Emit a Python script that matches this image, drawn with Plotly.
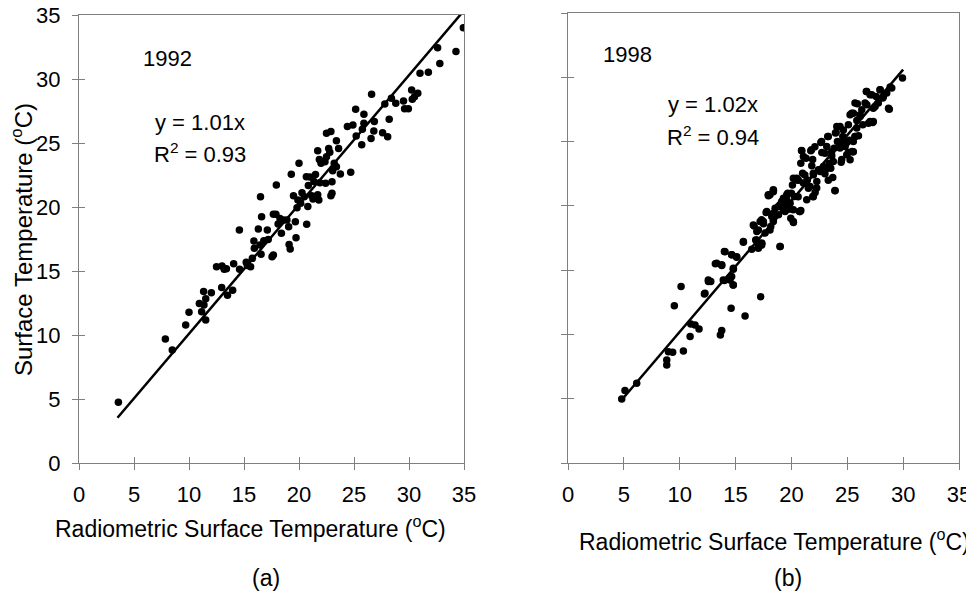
import plotly.graph_objects as go

# ---------------- data: panel (a) 1992 ----------------
a_x = [3.58, 7.85, 8.48, 9.7, 10.0, 11.15, 10.94, 11.36, 11.52, 11.33, 11.52, 12.03, 12.5, 13.0, 13.2, 13.4,
       12.97, 13.5, 13.97, 14.06, 14.58, 14.6, 15.2, 15.3, 15.6, 15.76, 15.9, 15.94, 16.3, 16.45, 16.55, 16.5,
       16.6, 16.8, 17.12, 17.2, 17.55, 17.67, 17.67, 17.9, 17.94, 18.1, 18.27, 18.4, 18.6, 18.9, 19.06, 19.1,
       19.2, 19.3, 19.5, 19.67, 19.73, 19.82, 19.9, 20.0, 20.15, 20.27, 20.48, 20.67, 20.7, 20.8, 20.85, 21.0,
       21.15, 21.27, 21.36, 21.5, 21.7, 21.7, 21.8, 21.85, 21.9, 22.0, 22.36, 22.42, 22.5, 22.5, 22.7, 22.8,
       22.9, 22.9, 23.0, 23.0, 23.06, 23.2, 23.4, 23.4, 23.6, 23.76, 24.4, 24.7, 24.9, 25.2, 25.15, 25.7,
       25.76, 25.9, 25.9, 26.55, 26.6, 26.8, 26.85, 27.6, 27.8, 28.06, 28.2, 28.4, 28.8, 29.5, 29.6, 29.94,
       30.24, 30.3, 30.5, 30.8, 31.0, 31.76, 32.6, 32.8, 34.27, 34.94]
a_y = [4.74, 9.69, 8.83, 10.78, 11.77, 11.82, 12.47, 12.34, 12.84, 13.39, 11.17, 13.31, 15.34, 15.39, 15.13, 15.18,
       13.72, 13.1, 13.5, 15.57, 18.2, 15.13, 15.68, 15.42, 15.34, 15.99, 17.34, 16.77, 18.28, 17.03, 16.3, 20.8,
       19.24, 17.37, 18.2, 17.47, 16.12, 16.25, 19.43, 19.43, 21.72, 18.67, 19.11, 17.94, 18.98, 18.98, 18.46, 17.08,
       16.72, 22.55, 20.88, 18.85, 17.6, 19.95, 20.55, 23.41, 20.29, 21.12, 20.8, 22.37, 18.65, 20.03, 21.67, 22.34,
       20.88, 20.62, 22.0, 22.53, 24.4, 20.96, 20.55, 23.72, 21.9, 23.41, 23.54, 21.85, 25.76, 23.93, 24.58, 24.27,
       25.89, 20.88, 21.07, 21.98, 22.84, 23.41, 25.18, 23.15, 24.58, 22.58, 26.28, 22.71, 26.41, 25.55, 27.63, 24.87,
       26.07, 27.24, 26.54, 25.36, 28.8, 25.94, 26.67, 25.81, 28.05, 25.49, 26.85, 28.49, 28.1, 28.28, 27.68, 27.68,
       29.14, 28.41, 28.62, 28.88, 30.44, 30.52, 32.45, 31.22, 32.14, 34.0]

# ---------------- data: panel (b) 1998 ----------------
b_x = [4.81, 5.1, 6.15, 8.84, 8.84, 8.99, 9.37, 9.52, 10.12, 10.33, 10.93, 10.99, 11.37, 11.73, 12.21, 12.57,
       12.78, 13.19, 13.64, 13.76, 13.76, 14.0, 14.0, 14.51, 14.6, 14.66, 14.78, 14.8, 15.1, 15.7, 15.85, 16.45,
       16.66, 16.9, 16.8, 17.04, 17.2, 17.25, 17.34, 17.5, 17.73, 17.94, 18.15, 18.39, 18.39, 18.54, 18.84, 18.99,
       19.13, 19.28, 19.43, 19.67, 19.76, 19.88, 19.94, 20.09, 20.18, 20.27, 20.48, 20.6, 20.72, 20.84, 20.84, 20.93,
       21.0, 21.16, 21.31, 21.43, 21.52, 21.73, 21.82, 21.91, 21.97, 22.12, 22.27, 22.42, 22.63, 22.72, 22.87, 23.0,
       23.16, 23.25, 23.4, 23.52, 23.61, 23.7, 23.82, 23.9, 23.94, 24.06, 24.12, 24.36, 24.45, 24.6, 24.81, 24.96,
       25.1, 25.25, 25.43, 25.55, 25.7, 25.85, 25.9, 26.0, 26.15, 26.3, 26.39, 26.7, 26.75, 26.9, 27.04, 27.28,
       27.49, 27.58, 27.94, 28.18, 28.69, 28.84, 29.94,
       24.35, 24.0, 23.3, 22.7, 22.1, 21.8, 20.9, 21.07, 21.9, 23.0, 23.6, 24.35, 25.2, 25.5, 24.5, 23.75,
       23.16, 22.56, 21.96, 21.2, 20.6, 20.17, 21.07, 21.67, 22.26, 23.3, 23.9, 21.96, 21.37, 20.6, 20.0, 19.58,
       18.38, 17.93, 18.98, 19.27, 17.79, 18.38, 20.17, 20.77, 17.34, 18.38, 20.17, 18.98, 17.34,
       28.98, 27.93, 26.74, 27.19, 28.23, 28.53, 27.78, 25.69, 26.59, 27.33, 28.76, 25.4, 26.14, 27.04, 27.33, 25.1,
       25.85, 24.65, 25.69, 25.54, 24.5, 25.54, 24.95, 25.25,
       18.08, 18.38, 19.58, 18.83, 19.43, 18.24, 17.49, 16.59, 17.04, 17.64, 18.08, 16.89, 17.34, 17.04, 15.7, 14.06,
       14.65, 15.1, 13.31, 13.76, 14.8, 14.65, 14.5, 13.9, 14.8, 12.56, 12.26]
b_y = [4.98, 5.63, 6.2, 8.02, 7.63, 8.66, 8.61, 12.24, 13.72, 8.72, 9.83, 10.82, 10.74, 10.43, 13.15, 14.11,
       14.11, 15.49, 9.96, 10.3, 15.36, 16.45, 14.19, 14.45, 12.04, 16.19, 13.85, 15.07, 16.0, 17.17, 11.44, 16.63,
       18.44, 18.0, 17.35, 16.97, 18.78, 12.94, 17.09, 18.6, 19.48, 20.78, 18.39, 21.19, 18.91, 19.82, 19.3, 16.84,
       20.34, 20.6, 20.0, 20.99, 19.74, 20.21, 19.04, 21.63, 18.7, 20.73, 22.15, 22.02, 19.56, 19.64, 23.32, 24.28,
       22.54, 21.76, 23.71, 22.02, 21.37, 24.28, 23.11, 20.73, 22.41, 21.04, 21.89, 22.8, 24.93, 24.15, 23.06, 22.49,
       24.62, 25.4, 23.32, 22.93, 23.89, 22.2, 24.49, 21.19, 25.66, 26.17, 25.0, 24.62, 23.4, 25.4, 24.62, 24.93,
       24.15, 27.08, 24.23, 27.21, 25.4, 26.64, 27.94, 25.45, 27.08, 27.47, 26.3, 28.9, 27.86, 26.43, 28.64, 26.48,
       27.73, 28.51, 29.03, 28.38, 27.6, 29.24, 29.94,
       26.17, 25.7, 25.4, 25.0, 24.6, 24.36, 24.3, 23.84, 23.6, 24.1, 24.2, 24.5, 25.1, 24.2, 23.6, 23.45,
       22.9, 22.67, 22.54, 22.4, 22.0, 22.15, 21.77, 21.5, 21.38, 22.0, 21.17, 20.7, 20.47, 20.7, 20.99, 20.47,
       21.25, 20.86, 20.08, 19.69, 19.56, 19.43, 19.69, 19.56, 18.91, 18.78, 18.78, 16.83, 17.1,
       29.16, 29.03, 28.9, 28.64, 28.5, 28.77, 28.0, 28.0, 28.0, 27.6, 27.52, 27.2, 26.95, 26.56, 26.56, 26.3,
       26.05, 25.9, 25.4, 25.0, 24.88, 24.2, 23.97, 23.58,
       20.86, 21.1, 20.86, 19.95, 19.56, 19.17, 18.78, 18.52, 18.13, 17.88, 18.13, 17.35, 16.96, 16.71, 17.22, 16.44,
       16.19, 16.05, 15.54, 15.41, 15.15, 14.5, 14.24, 14.24, 13.85, 14.24, 13.2]

# regression lines (through origin)
slope_a = 1.01
slope_b = 1.02
line_a_x = [3.5, 35.0]
line_b_x = [4.8, 30.0]
r2_a = 0.93
r2_b = 0.94
tick_vals = [0, 5, 10, 15, 20, 25, 30, 35]

FONT = "Liberation Sans, Arial, sans-serif"
GRAY = "#7f7f7f"

OFF = 8  # page body margin offset of the plot div
W, H = 974 - OFF, 595 - OFF


def fx(px):
    return (px - OFF) / W


def fy(py):
    return 1 - (py - OFF) / H


fig = go.Figure()
mk = dict(color="black", size=7.5)
fig.add_trace(go.Scatter(x=a_x, y=a_y, mode="markers", marker=mk, xaxis="x", yaxis="y", showlegend=False))
fig.add_trace(go.Scatter(x=line_a_x, y=[slope_a * v for v in line_a_x], mode="lines",
                         line=dict(color="black", width=2.5), xaxis="x", yaxis="y", showlegend=False))
fig.add_trace(go.Scatter(x=b_x, y=b_y, mode="markers", marker=mk, xaxis="x2", yaxis="y2", showlegend=False))
fig.add_trace(go.Scatter(x=line_b_x, y=[slope_b * v for v in line_b_x], mode="lines",
                         line=dict(color="black", width=2.5), xaxis="x2", yaxis="y2", showlegend=False))

ax_common = dict(range=[0, 35], tickvals=tick_vals, showgrid=False, zeroline=False, showline=True,
                 mirror=True, linecolor=GRAY, linewidth=1, ticks="outside", ticklen=6, tickcolor=GRAY,
                 tickwidth=1, automargin=False, ticklabeloverflow="allow",
                 tickfont=dict(family=FONT, size=22, color="black"))
inner = dict(range=[0, 35], tickvals=tick_vals, showgrid=False, zeroline=False, showline=False,
             ticks="inside", ticklen=6, tickcolor=GRAY, tickwidth=1, showticklabels=False, automargin=False)

dom_ax = [fx(79), fx(464)]
dom_ay = [fy(463), fy(15)]
dom_bx = [fx(568), fx(959)]
dom_by = [fy(463), fy(13)]

fig.update_layout(
    width=W, height=H, margin=dict(l=0, r=0, t=0, b=0, autoexpand=False),
    paper_bgcolor="white", plot_bgcolor="white",
    font=dict(family=FONT, size=22, color="black"),
    xaxis=dict(domain=dom_ax, anchor="y", ticklabelstandoff=6, **ax_common),
    yaxis=dict(domain=dom_ay, anchor="x", ticklabelstandoff=7, **ax_common),
    xaxis2=dict(domain=dom_bx, anchor="y2", ticklabelstandoff=6, **ax_common),
    yaxis2=dict(domain=dom_by, anchor="x2", showticklabels=False, **ax_common),
    xaxis3=dict(overlaying="x", anchor="y", **inner),
    yaxis3=dict(overlaying="y", anchor="x", **inner),
    xaxis4=dict(overlaying="x2", anchor="y2", **inner),
    yaxis4=dict(overlaying="y2", anchor="x2", **inner),
)
# empty traces that activate the overlay tick axes (inner half of the crossing ticks)
fig.add_trace(go.Scatter(x=[None], y=[None], xaxis="x3", yaxis="y3", showlegend=False, hoverinfo="skip"))
fig.add_trace(go.Scatter(x=[None], y=[None], xaxis="x4", yaxis="y4", showlegend=False, hoverinfo="skip"))

ann = []
tf = dict(family=FONT, size=22, color="black")
ann.append(dict(text="1992", x=5.6, y=31.6, xref="x", yref="y", xanchor="left", yanchor="middle", showarrow=False, font=tf))
ann.append(dict(text=f"y = {slope_a:.2f}x", x=6.7, y=26.6, xref="x", yref="y", xanchor="left", yanchor="middle", showarrow=False, font=tf))
ann.append(dict(text=f"R<sup>2</sup> = {r2_a:.2f}", x=6.6, y=24.2, xref="x", yref="y", xanchor="left", yanchor="middle", showarrow=False, font=tf))
ann.append(dict(text="1998", x=2.95, y=31.8, xref="x2", yref="y2", xanchor="left", yanchor="middle", showarrow=False, font=tf))
ann.append(dict(text=f"y = {slope_b:.2f}x", x=8.8, y=27.86, xref="x2", yref="y2", xanchor="left", yanchor="middle", showarrow=False, font=tf))
ann.append(dict(text=f"R<sup>2</sup> = {r2_b:.2f}", x=8.7, y=25.4, xref="x2", yref="y2", xanchor="left", yanchor="middle", showarrow=False, font=tf))

title_f = dict(family=FONT, size=23, color="black")
ann.append(dict(text="Surface Temperature (<sup>o</sup>C)", x=fx(22), y=fy(240), xref="paper", yref="paper",
                textangle=-90, xanchor="center", yanchor="middle", showarrow=False,
                font=dict(family=FONT, size=24, color="black")))
ann.append(dict(text="Radiometric Surface Temperature (<sup>o</sup>C)", x=fx(250), y=fy(527), xref="paper",
                yref="paper", xanchor="center", yanchor="middle", showarrow=False, font=title_f))
ann.append(dict(text="Radiometric Surface Temperature (<sup>o</sup>C)", x=fx(774), y=fy(540), xref="paper",
                yref="paper", xanchor="center", yanchor="middle", showarrow=False, font=title_f))
ann.append(dict(text="(a)", x=fx(266), y=fy(578), xref="paper", yref="paper", xanchor="center",
                yanchor="middle", showarrow=False, font=title_f))
ann.append(dict(text="(b)", x=fx(788), y=fy(578), xref="paper", yref="paper", xanchor="center",
                yanchor="middle", showarrow=False, font=title_f))
fig.update_layout(annotations=ann)

fig.write_html("out.html")
